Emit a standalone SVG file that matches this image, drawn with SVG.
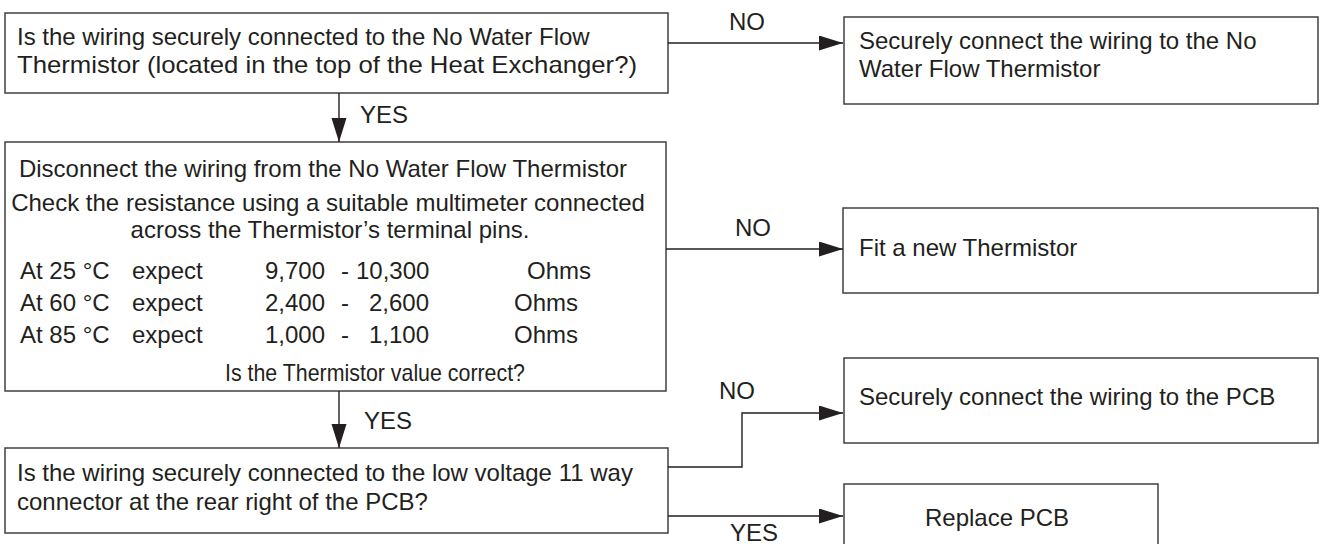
<svg xmlns="http://www.w3.org/2000/svg" width="1325" height="544" viewBox="0 0 1325 544">
<defs>
<marker id="ah" markerUnits="userSpaceOnUse" markerWidth="26" markerHeight="16" refX="24" refY="7.5" orient="auto">
<path d="M0,0 L24,7.5 L0,15 Z" fill="#231f20"/>
</marker>
<style>
rect.box{fill:#fff;stroke:#404040;stroke-width:1.5}
.t{font-family:"Liberation Sans",Arial,sans-serif;font-size:24px;fill:#231f20}
.c{text-anchor:middle}
.con path{fill:none;stroke:#231f20;stroke-width:1.4}
</style>
</defs>
<rect width="1325" height="544" fill="#fff"/>
<g id="q1">
<rect class="box" x="5" y="13" width="663" height="80"/>
<text class="t" x="17" y="45">Is the wiring securely connected to the No Water Flow</text>
<text class="t" x="17" y="73" textLength="620" lengthAdjust="spacingAndGlyphs">Thermistor (located in the top of the Heat Exchanger?)</text>
</g>
<g id="a1">
<rect class="box" x="844" y="17" width="474" height="87"/>
<text class="t" x="859" y="49">Securely connect the wiring to the No</text>
<text class="t" x="859" y="77">Water Flow Thermistor</text>
</g>
<g id="q2">
<rect class="box" x="5" y="142" width="661" height="249"/>
<text class="t c" x="323" y="177">Disconnect the wiring from the No Water Flow Thermistor</text>
<text class="t c" x="328" y="211">Check the resistance using a suitable multimeter connected</text>
<text class="t c" x="330" y="238">across the Thermistor’s terminal pins.</text>
<text class="t" x="20" y="279">At 25 °C</text><text class="t" x="132" y="279">expect</text><text class="t" x="265" y="279">9,700</text><text class="t" x="341" y="279">-</text><text class="t" x="356" y="279">10,300</text><text class="t" x="527" y="279">Ohms</text>
<text class="t" x="20" y="311">At 60 °C</text><text class="t" x="132" y="311">expect</text><text class="t" x="265" y="311">2,400</text><text class="t" x="341" y="311">-</text><text class="t" x="369" y="311">2,600</text><text class="t" x="514" y="311">Ohms</text>
<text class="t" x="20" y="343">At 85 °C</text><text class="t" x="132" y="343">expect</text><text class="t" x="265" y="343">1,000</text><text class="t" x="341" y="343">-</text><text class="t" x="369" y="343">1,100</text><text class="t" x="514" y="343">Ohms</text>
<text class="t" x="225" y="381" textLength="300" lengthAdjust="spacingAndGlyphs">Is the Thermistor value correct?</text>
</g>
<g id="a2">
<rect class="box" x="843" y="208" width="475" height="85"/>
<text class="t" x="859" y="256">Fit a new Thermistor</text>
</g>
<g id="q3">
<rect class="box" x="5" y="448" width="663" height="85"/>
<text class="t" x="17" y="481">Is the wiring securely connected to the low voltage 11 way</text>
<text class="t" x="17" y="510">connector at the rear right of the PCB?</text>
</g>
<g id="a3">
<rect class="box" x="844" y="358" width="474" height="85"/>
<text class="t" x="859" y="405">Securely connect the wiring to the PCB</text>
</g>
<g id="a4">
<rect class="box" x="844" y="484" width="314" height="80"/>
<text class="t c" x="997" y="526">Replace PCB</text>
</g>
<g id="connectors" class="con">
<path d="M668,43 H843" marker-end="url(#ah)"/>
<path d="M339,93 V142" marker-end="url(#ah)"/>
<path d="M666,249 H843" marker-end="url(#ah)"/>
<path d="M339,391 V448" marker-end="url(#ah)"/>
<path d="M668,467 H742 V413 H843" marker-end="url(#ah)"/>
<path d="M668,516 H843" marker-end="url(#ah)"/>
<text class="t c" x="747" y="30">NO</text>
<text class="t" x="360" y="123">YES</text>
<text class="t c" x="753" y="236">NO</text>
<text class="t" x="364" y="429">YES</text>
<text class="t c" x="737" y="399">NO</text>
<text class="t c" x="754" y="541">YES</text>
</g>
</svg>
